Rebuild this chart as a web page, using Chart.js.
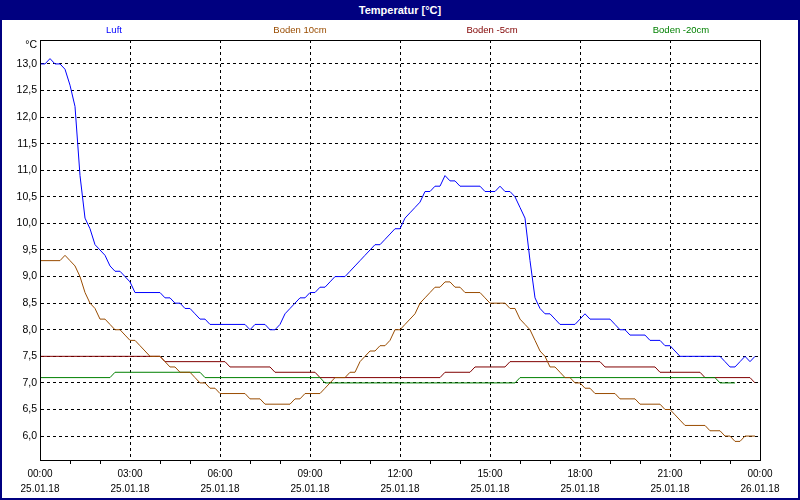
<!DOCTYPE html>
<html>
<head>
<meta charset="utf-8">
<script src="https://cdn.jsdelivr.net/npm/chart.js@4/dist/chart.umd.min.js"></script>
<style>
  html, body { margin: 0; padding: 0; background: #fff; }
  #frame { position: relative; width: 800px; height: 500px; box-sizing: border-box; border: 2px solid #000080; border-top: 0; background: #fff; }
  #bar { height: 20px; margin: 0 -2px; background: #000080; color: #fff; font: bold 11px "Liberation Sans", Arial, sans-serif; line-height: 20px; text-align: center; }
  #wrap { position: absolute; left: 0; top: 20px; width: 796px; height: 478px; }
</style>
</head>
<body>
<div id="frame">
  <div id="bar">Temperatur [°C]</div>
  <div id="wrap"><canvas id="chart" width="796" height="478"></canvas></div>
</div>
<script>
// one sample every 10 minutes, 00:00 .. 23:50 on 25.01.18
const STEP = 10;
const seriesNames = ['Luft', 'Boden 10cm', 'Boden -5cm', 'Boden -20cm'];
const seriesColors = ['#0000ff', '#994c00', '#800000', '#008000'];

const luft = [
  13.0, 13.0, 13.1, 13.0, 13.0, 12.9, 12.6, 12.2, 10.9, 10.1, 9.9, 9.6,
  9.5, 9.4, 9.2, 9.1, 9.1, 9.0, 8.9, 8.7, 8.7, 8.7, 8.7, 8.7,
  8.7, 8.6, 8.6, 8.5, 8.5, 8.4, 8.4, 8.3, 8.2, 8.2, 8.1, 8.1,
  8.1, 8.1, 8.1, 8.1, 8.1, 8.1, 8.0, 8.1, 8.1, 8.1, 8.0, 8.0,
  8.1, 8.3, 8.4, 8.5, 8.6, 8.6, 8.7, 8.7, 8.8, 8.8, 8.9, 9.0,
  9.0, 9.0, 9.1, 9.2, 9.3, 9.4, 9.5, 9.6, 9.6, 9.7, 9.8, 9.9,
  9.9, 10.1, 10.2, 10.3, 10.4, 10.6, 10.6, 10.7, 10.7, 10.9, 10.8, 10.8,
  10.7, 10.7, 10.7, 10.7, 10.7, 10.6, 10.6, 10.6, 10.7, 10.6, 10.6, 10.5,
  10.3, 10.1, 9.3, 8.6, 8.4, 8.3, 8.3, 8.2, 8.1, 8.1, 8.1, 8.1,
  8.2, 8.3, 8.2, 8.2, 8.2, 8.2, 8.2, 8.1, 8.0, 8.0, 7.9, 7.9,
  7.9, 7.9, 7.8, 7.8, 7.8, 7.7, 7.7, 7.6, 7.5, 7.5, 7.5, 7.5,
  7.5, 7.5, 7.5, 7.5, 7.5, 7.4, 7.3, 7.3, 7.4, 7.5, 7.4, 7.5,
];
const boden10 = [
  9.3, 9.3, 9.3, 9.3, 9.3, 9.4, 9.3, 9.2, 9.0, 8.7, 8.5, 8.4,
  8.2, 8.2, 8.1, 8.0, 8.0, 7.9, 7.8, 7.8, 7.7, 7.6, 7.5, 7.5,
  7.5, 7.4, 7.3, 7.3, 7.2, 7.2, 7.2, 7.1, 7.0, 7.0, 6.9, 6.9,
  6.8, 6.8, 6.8, 6.8, 6.8, 6.8, 6.7, 6.7, 6.7, 6.6, 6.6, 6.6,
  6.6, 6.6, 6.6, 6.7, 6.7, 6.8, 6.8, 6.8, 6.8, 6.9, 7.0, 7.1,
  7.1, 7.1, 7.2, 7.2, 7.4, 7.5, 7.6, 7.6, 7.7, 7.7, 7.8, 8.0,
  8.0, 8.1, 8.2, 8.3, 8.5, 8.6, 8.7, 8.8, 8.8, 8.9, 8.9, 8.8,
  8.8, 8.7, 8.7, 8.7, 8.7, 8.6, 8.5, 8.5, 8.5, 8.5, 8.4, 8.4,
  8.2, 8.1, 8.0, 7.8, 7.6, 7.5, 7.3, 7.3, 7.2, 7.1, 7.1, 7.0,
  7.0, 6.9, 6.9, 6.8, 6.8, 6.8, 6.8, 6.8, 6.7, 6.7, 6.7, 6.7,
  6.6, 6.6, 6.6, 6.6, 6.6, 6.5, 6.5, 6.4, 6.3, 6.2, 6.2, 6.2,
  6.2, 6.2, 6.1, 6.1, 6.1, 6.0, 6.0, 5.9, 5.9, 6.0, 6.0, 6.0,
];
const bodenM5 = [
  7.5, 7.5, 7.5, 7.5, 7.5, 7.5, 7.5, 7.5, 7.5, 7.5, 7.5, 7.5,
  7.5, 7.5, 7.5, 7.5, 7.5, 7.5, 7.5, 7.5, 7.5, 7.5, 7.5, 7.5,
  7.5, 7.4, 7.4, 7.4, 7.4, 7.4, 7.4, 7.4, 7.4, 7.4, 7.4, 7.4,
  7.4, 7.4, 7.3, 7.3, 7.3, 7.3, 7.3, 7.3, 7.3, 7.3, 7.3, 7.2,
  7.2, 7.2, 7.2, 7.2, 7.2, 7.2, 7.2, 7.2, 7.1, 7.1, 7.1, 7.1,
  7.1, 7.1, 7.1, 7.1, 7.1, 7.1, 7.1, 7.1, 7.1, 7.1, 7.1, 7.1,
  7.1, 7.1, 7.1, 7.1, 7.1, 7.1, 7.1, 7.1, 7.1, 7.2, 7.2, 7.2,
  7.2, 7.2, 7.2, 7.3, 7.3, 7.3, 7.3, 7.3, 7.3, 7.3, 7.4, 7.4,
  7.4, 7.4, 7.4, 7.4, 7.4, 7.4, 7.4, 7.4, 7.4, 7.4, 7.4, 7.4,
  7.4, 7.4, 7.4, 7.4, 7.4, 7.3, 7.3, 7.3, 7.3, 7.3, 7.3, 7.3,
  7.3, 7.3, 7.3, 7.3, 7.2, 7.2, 7.2, 7.2, 7.2, 7.2, 7.2, 7.2,
  7.2, 7.1, 7.1, 7.1, 7.1, 7.1, 7.1, 7.1, 7.1, 7.1, 7.1, 7.0,
];
const bodenM20 = [
  7.1, 7.1, 7.1, 7.1, 7.1, 7.1, 7.1, 7.1, 7.1, 7.1, 7.1, 7.1,
  7.1, 7.1, 7.1, 7.2, 7.2, 7.2, 7.2, 7.2, 7.2, 7.2, 7.2, 7.2,
  7.2, 7.2, 7.2, 7.2, 7.2, 7.2, 7.2, 7.2, 7.2, 7.1, 7.1, 7.1,
  7.1, 7.1, 7.1, 7.1, 7.1, 7.1, 7.1, 7.1, 7.1, 7.1, 7.1, 7.1,
  7.1, 7.1, 7.1, 7.1, 7.1, 7.1, 7.1, 7.1, 7.1, 7.0, 7.0, 7.0,
  7.0, 7.0, 7.0, 7.0, 7.0, 7.0, 7.0, 7.0, 7.0, 7.0, 7.0, 7.0,
  7.0, 7.0, 7.0, 7.0, 7.0, 7.0, 7.0, 7.0, 7.0, 7.0, 7.0, 7.0,
  7.0, 7.0, 7.0, 7.0, 7.0, 7.0, 7.0, 7.0, 7.0, 7.0, 7.0, 7.0,
  7.1, 7.1, 7.1, 7.1, 7.1, 7.1, 7.1, 7.1, 7.1, 7.1, 7.1, 7.1,
  7.1, 7.1, 7.1, 7.1, 7.1, 7.1, 7.1, 7.1, 7.1, 7.1, 7.1, 7.1,
  7.1, 7.1, 7.1, 7.1, 7.1, 7.1, 7.1, 7.1, 7.1, 7.1, 7.1, 7.1,
  7.1, 7.1, 7.1, 7.1, 7.0, 7.0, 7.0, 7.0,
];

// axis ticks
const yTicks = [6.0, 6.5, 7.0, 7.5, 8.0, 8.5, 9.0, 9.5, 10.0, 10.5, 11.0, 11.5, 12.0, 12.5, 13.0];
const timeLabels = ['00:00', '03:00', '06:00', '09:00', '12:00', '15:00', '18:00', '21:00', '00:00'];
const dateLabels = ['25.01.18', '25.01.18', '25.01.18', '25.01.18', '25.01.18', '25.01.18', '25.01.18', '25.01.18', '26.01.18'];
const legendX = [112, 298, 490, 679];

const FONT = '"Liberation Sans", Arial, sans-serif';
const major = (v) => v % 180 === 0;
const none = 'rgba(0,0,0,0)';

const frame = {
  id: 'frame',
  afterDraw(chart) {
    const { ctx, chartArea: a } = chart;
    ctx.save();
    ctx.strokeStyle = '#000';
    ctx.lineWidth = 1;
    ctx.strokeRect(Math.round(a.left) + 0.5, Math.round(a.top) + 0.5, Math.round(a.right - a.left), Math.round(a.bottom - a.top));
    ctx.fillStyle = '#000';
    ctx.font = '10.5px ' + FONT;
    ctx.textAlign = 'right';
    ctx.textBaseline = 'middle';
    ctx.fillText('°C', a.left - 3, a.top + 5);
    ctx.font = '9.5px ' + FONT;
    ctx.textAlign = 'center';
    chart.data.datasets.forEach((d, i) => { ctx.fillStyle = d.borderColor; ctx.fillText(d.label, legendX[i], 10.5); });
    ctx.restore();
  },
};

const series = [luft, boden10, bodenM5, bodenM20];
const drawOrder = [1, 2, 4, 3];

new Chart(document.getElementById('chart'), {
  type: 'line',
  data: {
    datasets: series.map((s, k) => ({
      label: seriesNames[k],
      data: s.map((v, i) => ({ x: i * STEP, y: v })),
      borderColor: seriesColors[k],
      borderWidth: 1,
      pointRadius: 0,
      tension: 0,
      order: drawOrder[k],
    })),
  },
  options: {
    responsive: false,
    animation: false,
    layout: { padding: { top: 20, right: 38, left: 0, bottom: 0 } },
    plugins: { legend: { display: false }, tooltip: { enabled: false } },
    scales: {
      x: {
        type: 'linear', min: 0, max: 1440,
        afterFit: (s) => { s.height = 38; },
        ticks: { stepSize: 60, autoSkip: false, maxRotation: 0, padding: 3, color: '#000', font: { family: FONT, size: 10, lineHeight: 1.45 }, callback: (v) => major(v) ? [timeLabels[v / 180], dateLabels[v / 180]] : '' },
        grid: { color: (c) => c.tick && major(c.tick.value) ? '#000' : none, tickColor: (c) => c.tick && major(c.tick.value) ? none : '#000', tickLength: 4 },
        border: { color: '#000', dash: [3, 3] },
      },
      y: {
        min: 5.55, max: 13.45,
        afterFit: (s) => { s.width = 38; },
        afterBuildTicks: (s) => { s.ticks = yTicks.map((value) => ({ value })); },
        ticks: { padding: 3, color: '#000', font: { family: FONT, size: 10.5 }, callback: (v) => v.toFixed(1).replace('.', ',') },
        grid: { color: '#000', drawTicks: false },
        border: { color: '#000', dash: [3, 3] },
      },
    },
  },
  plugins: [frame],
});
</script>
</body>
</html>
